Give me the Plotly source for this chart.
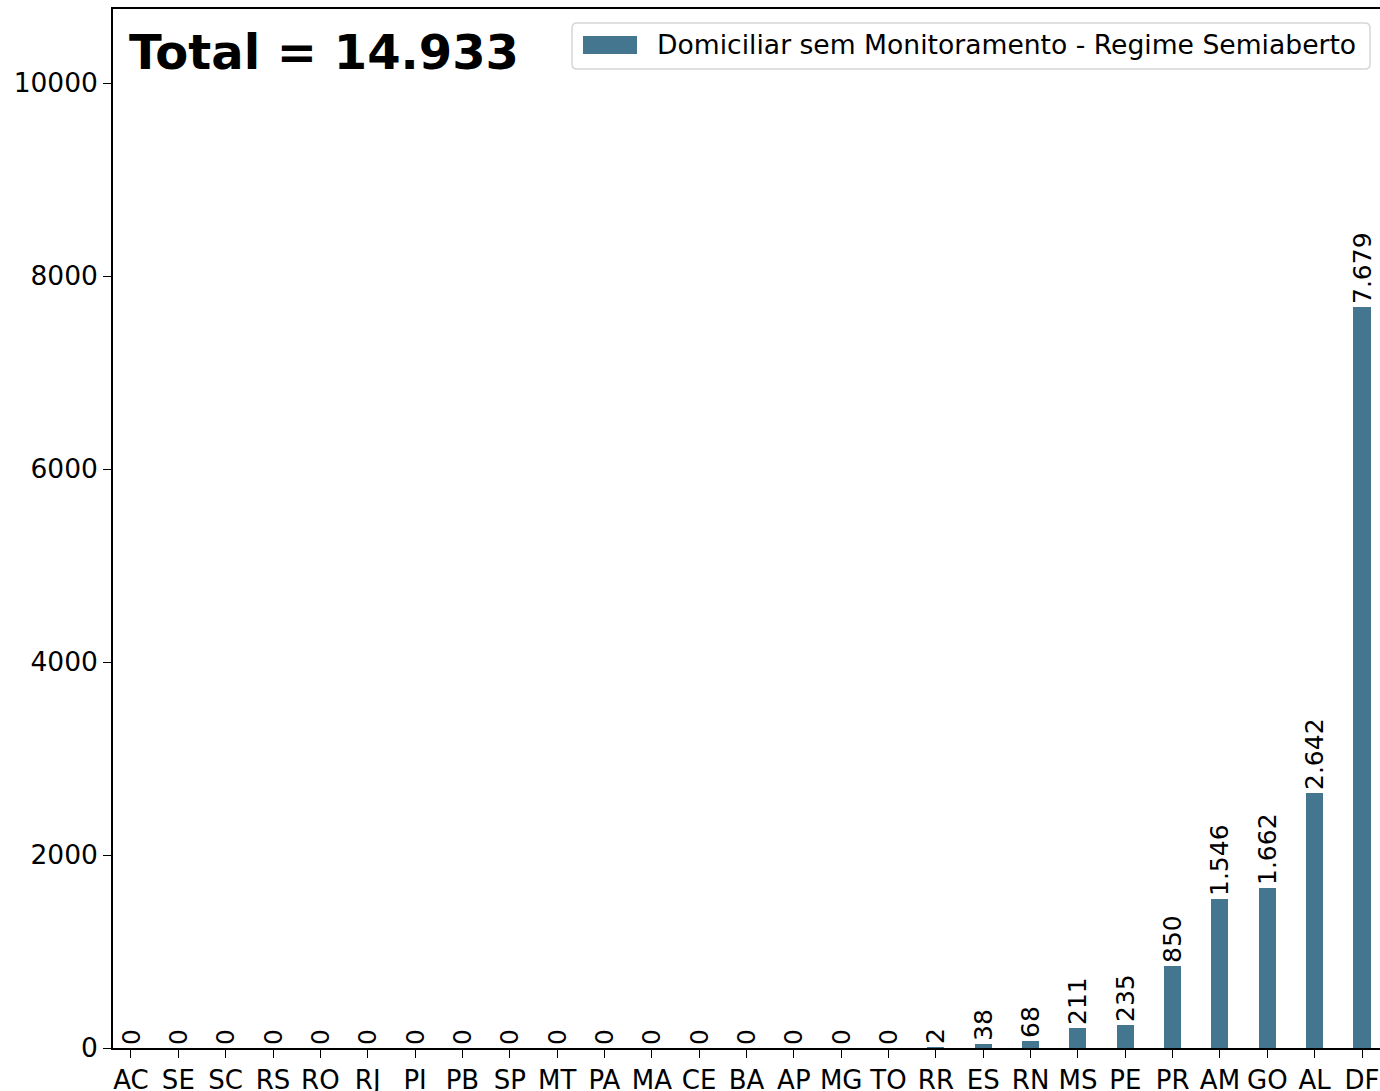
import plotly.graph_objects as go

# Data
ufs = ["AC", "SE", "SC", "RS", "RO", "RJ", "PI", "PB", "SP", "MT", "PA", "MA", "CE",
       "BA", "AP", "MG", "TO", "RR", "ES", "RN", "MS", "PE", "PR", "AM", "GO", "AL", "DF"]
valores = [0, 0, 0, 0, 0, 0, 0, 0, 0, 0, 0, 0, 0,
           0, 0, 0, 0, 2, 38, 68, 211, 235, 850, 1546, 1662, 2642, 7679]
serie = "Domiciliar sem Monitoramento - Regime Semiaberto"
y_ticks = [0, 2000, 4000, 6000, 8000, 10000]

cor = "#45768F"
fonte = "DejaVu Sans"


def br(n):
    return f"{n:,}".replace(",", ".")


rotulos = [br(v) for v in valores]
total = sum(valores)

W, H = 1380, 1091
L, R, T, B = 113, 0, 9, 43
pw, ph = W - L - R, H - T - B


def px(x):
    return (x - L) / pw


def py(y):
    return (H - B - y) / ph


fig = go.Figure()
fig.add_trace(go.Bar(
    x=ufs, y=valores, width=0.36,
    marker=dict(color=cor, line=dict(width=0)),
    text=rotulos, textposition="outside", textangle=-90,
    textfont=dict(family=fonte, size=25, color="black"),
    constraintext="none", cliponaxis=False,
    name=serie, showlegend=False,
))

# legenda desenhada à mão (caixa no estilo matplotlib)
x0, x1, y0, y1, r = px(572), px(1370), py(69), py(23), 5
rx, ry = r / pw, r / ph
path = (f"M {x0+rx},{y0} L {x1-rx},{y0} Q {x1},{y0} {x1},{y0+ry} "
        f"L {x1},{y1-ry} Q {x1},{y1} {x1-rx},{y1} L {x0+rx},{y1} "
        f"Q {x0},{y1} {x0},{y1-ry} L {x0},{y0+ry} Q {x0},{y0} {x0+rx},{y0} Z")
fig.add_shape(type="path", path=path, xref="paper", yref="paper",
              line=dict(color="#d6d6d6", width=1.5), fillcolor="rgba(255,255,255,0.8)")
fig.add_shape(type="rect", xref="paper", yref="paper",
              x0=px(583), x1=px(637), y0=py(54), y1=py(36),
              line=dict(width=0), fillcolor=cor)
fig.add_annotation(text=serie, xref="paper", yref="paper", x=px(655), y=py(45),
                   xanchor="left", yanchor="middle", showarrow=False,
                   font=dict(family=fonte, size=26.6, color="black"))

fig.add_annotation(text=f"<b>Total = {br(total)}</b>", xref="paper", yref="paper",
                   x=px(127), y=py(52), xanchor="left", yanchor="middle", showarrow=False,
                   font=dict(family=fonte, size=48, color="black"))

fig.update_layout(
    width=W, height=H,
    margin=dict(l=L, r=R, t=T, b=B, pad=0),
    plot_bgcolor="white", paper_bgcolor="white",
    font=dict(family=fonte, size=26, color="black"),
    showlegend=False,
    bargap=0,
)
fig.update_xaxes(
    range=[-0.38, len(ufs) - 1 + 0.38], automargin=False,
    showline=True, linecolor="black", linewidth=1.5, mirror=True,
    ticks="outside", ticklen=8, tickwidth=1.3, tickcolor="black",
    showgrid=False, tickangle=0,
    tickfont=dict(family=fonte, size=26, color="black"),
)
fig.update_yaxes(
    range=[0, 10767], tickvals=y_ticks, tickformat="d", automargin=False,
    showline=True, linecolor="black", linewidth=1.5,
    ticks="outside", ticklen=8, tickwidth=1.3, tickcolor="black",
    showgrid=False, zeroline=False,
    tickfont=dict(family=fonte, size=26.5, color="black"),
)

fig.write_html("out.html", config={"displayModeBar": False},
               post_script="document.body.style.margin='0';document.body.style.overflow='hidden';")
